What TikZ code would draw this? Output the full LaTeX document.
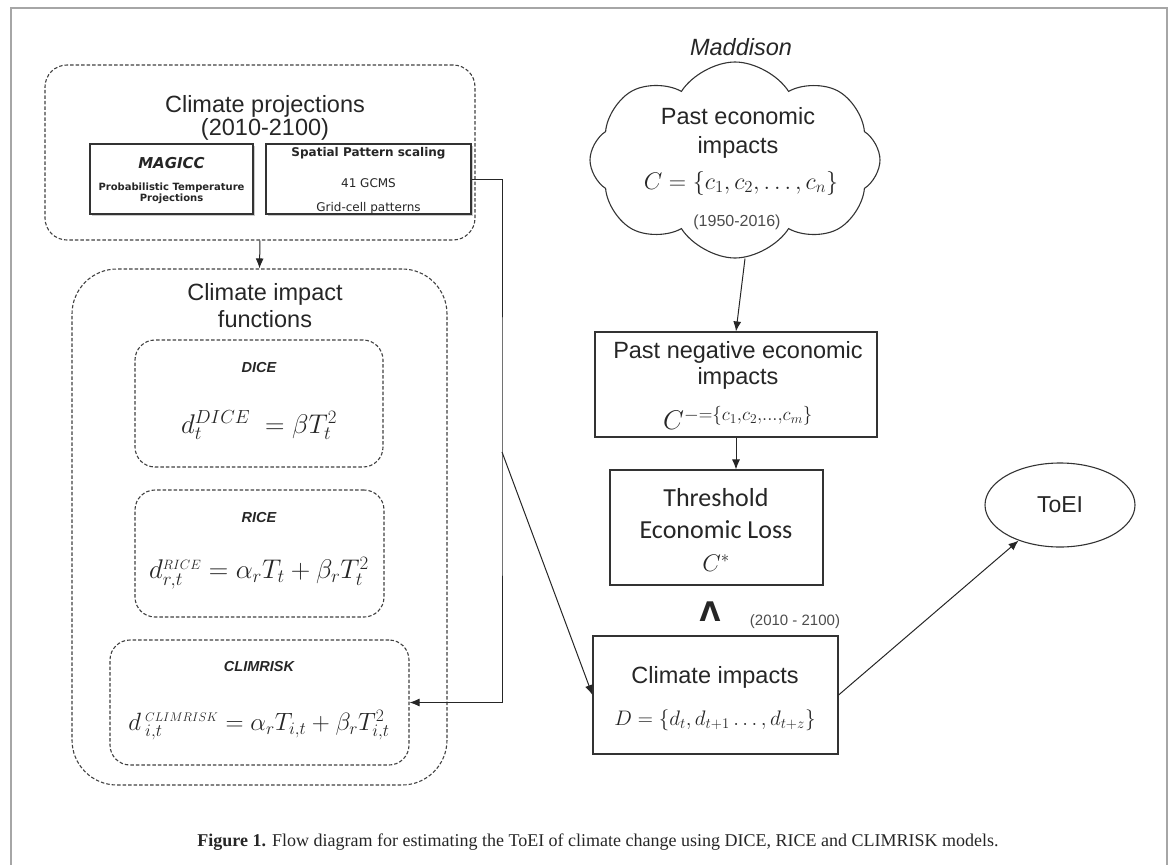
\RequirePackage{fix-cm}
\documentclass[tikz,border=0pt]{standalone}
\usepackage{fontspec}
\setmainfont{Liberation Sans}
\newfontfamily\verdanafont{DejaVu Sans}
\newfontfamily\calibrifont{Carlito}
\newfontfamily\capfont{Liberation Serif}
\usetikzlibrary{shapes.symbols,shapes.geometric,shadows,arrows.meta}

\newcommand{\fs}[1]{\fontsize{#1}{#1}\selectfont}

\tikzset{
  dotbox/.style={draw=black!75, line width=1.1pt, dash pattern=on 3.5pt off 2pt,
    rounded corners=#1, inner sep=0pt},
  dotbox/.default=20pt,
  solidbox/.style={draw=black!80, line width=1.1pt, inner sep=0pt, fill=white},
  modelbox/.style={draw=black!80, line width=1.6pt, inner sep=0pt, fill=white,
    drop shadow={shadow xshift=2pt, shadow yshift=-2pt, fill=black!35, opacity=0.6}},
  txt/.style={inner sep=0pt, text=black!85, align=center},
  modeltitle/.style={txt, font=\fs{14.5}\bfseries\itshape},
  formula/.style={txt, font=\fs{27}},
  flow/.style={draw=black!85, line width=1pt, -{Latex[length=10pt,width=8pt]}},
}

\begin{document}
\begin{tikzpicture}[x=1pt,y=-1pt]
  \useasboundingbox (0,0) rectangle (1173,865);
  \draw[black!35, line width=1.3pt] (11,870) -- (11,8) -- (1167,8) -- (1167,870);

  % climate projections
  \node[dotbox=22pt, minimum width=430pt, minimum height=175pt] (proj) at (260,152.5) {};
  \node[txt, font=\fontsize{23.5}{20}\selectfont] (projt) at (265,118)
    {Climate projections\\(2010-2100)};
  \node[modelbox, minimum width=163pt, minimum height=70pt] (magicc) at (171.5,179) {};
  \node[txt, font=\verdanafont\fs{15}\bfseries\itshape] (magicct) at (171.5,163) {MAGICC};
  \node[txt, font=\verdanafont\fontsize{10}{11}\selectfont\bfseries] (magiccs) at (171.5,193)
    {Probabilistic Temperature\\Projections};
  \node[modelbox, minimum width=205pt, minimum height=70pt] (spatial) at (368.5,179) {};
  \node[txt, font=\verdanafont\fs{12}\bfseries] (spatialt) at (368.5,153) {Spatial Pattern scaling};
  \node[txt, font=\verdanafont\fs{12}] (gcms) at (368.5,183) {41 GCMS};
  \node[txt, font=\verdanafont\fs{12}] (grid) at (368.5,208) {Grid-cell patterns};

  % climate impact functions
  \node[dotbox=45pt, minimum width=375pt, minimum height=516pt] (cif) at (259.5,527) {};
  \node[txt, font=\fontsize{23.5}{27}\selectfont] (cift) at (265,306) {Climate impact\\functions};
  \node[dotbox, minimum width=248pt, minimum height=127pt] (dice) at (259,403.5) {};
  \node[modeltitle] (dicet) at (259,368) {DICE};
  \node[formula] (dicef) at (259,425) {$d_t^{\scriptstyle DICE}\;=\beta T_t^2$};
  \node[dotbox, minimum width=249pt, minimum height=127pt] (rice) at (259.5,553.5) {};
  \node[modeltitle] (ricet) at (259,518) {RICE};
  \node[formula] (ricef) at (259,573)
    {$d_{r,t}^{\scriptscriptstyle RICE}=\alpha_r T_t+\beta_r T_t^2$};
  \node[dotbox, minimum width=299pt, minimum height=125pt] (climrisk) at (259.5,702.5) {};
  \node[modeltitle] (climriskt) at (259,666) {CLIMRISK};
  \node[formula, font=\fs{25}] (climriskf) at (259,725)
    {$d\,_{i,t}^{\scriptscriptstyle CLIMRISK}=\alpha_r T_{i,t}+\beta_r T_{i,t}^2$};

  % past impacts
  \node[txt, font=\fs{23.5}\itshape] (maddison) at (741,47) {Maddison};
  \node[cloud, cloud puffs=8, cloud puff arc=115, aspect=1.5, draw=black!80, line width=1.1pt,
    minimum width=290pt, minimum height=196pt] (cloud) at (735,160) {};
  \node[txt, font=\fontsize{23.5}{29}\selectfont] (cloudt) at (738,132.5) {Past economic\\impacts};
  \node[formula, font=\fs{24}] (cloudf) at (741,183) {$C=\{c_1,c_2,\dots,c_n\}$};
  \node[txt, font=\fs{16}, text=black!70] (past) at (737,222) {(1950-2016)};

  \node[solidbox, minimum width=282pt, minimum height=105pt] (pastneg) at (736,384.5) {};
  \node[txt, font=\fontsize{23.5}{26}\selectfont] (pastnegt) at (738,365)
    {Past negative economic\\impacts};
  \node[formula] (pastnegf) at (738,418) {$C^{-=\{c_1,c_2,\dots,c_m\}}$};

  \node[solidbox, minimum width=213pt, minimum height=115pt] (thr) at (716.5,527.5) {};
  \node[txt, font=\calibrifont\fontsize{26}{32}\selectfont] (thrt) at (716,514)
    {Threshold\\Economic Loss};
  \node[formula, font=\fs{24}] (thrf) at (716,563) {$C^*$};
  \node[txt, font=\verdanafont\fs{27}\bfseries] (geq) at (710,612) {Λ};
  \node[txt, font=\fs{15}, text=black!70] (future) at (795,622) {(2010 - 2100)};

  \node[solidbox, minimum width=245pt, minimum height=118pt] (cimp) at (715.5,695) {};
  \node[txt, font=\fs{23.5}] (cimpt) at (715,677) {Climate impacts};
  \node[formula, font=\fs{21}] (cimpf) at (715,720) {$D=\{d_t,d_{t+1}\dots,d_{t+z}\}$};

  \node[ellipse, draw=black!80, line width=1.1pt, minimum width=150pt, minimum height=84pt,
    font=\fs{23}, text=black!85] (toei) at (1060,505) {ToEI};

  \node[txt, font=\capfont\fs{18}] (caption) at (598,842)
    {\textbf{Figure 1.} Flow diagram for estimating the ToEI of climate change using DICE, RICE and CLIMRISK models.};

  \coordinate (split) at (502,452);
  \begin{scope}[flow]
    \draw (proj.south) -- (cif.north);
    \draw (spatial.east) -| (split) |- (climrisk.east);
    \draw (split) -- (cimp.west);
    \draw ([xshift=10pt]cloud.south) -- (pastneg.north);
    \draw (pastneg.south) -- (pastneg.south |- thr.north);
    \draw (cimp.east) -- (toei);
  \end{scope}
\end{tikzpicture}
\end{document}
